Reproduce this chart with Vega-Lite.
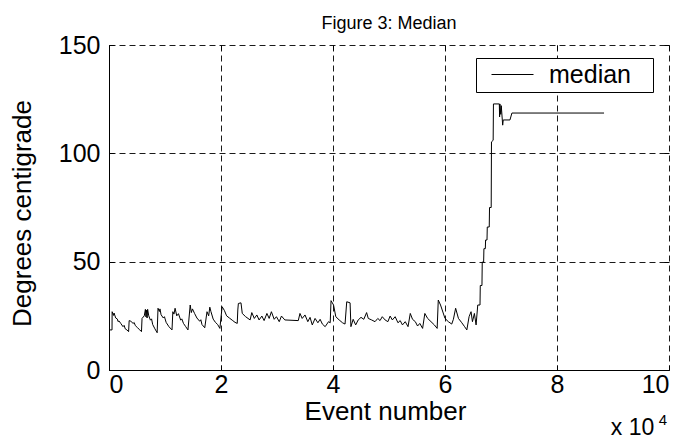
{
  "$schema": "https://vega.github.io/schema/vega-lite/v6.json",
  "width": 560,
  "height": 325,
  "autosize": "none",
  "padding": {"left": 109, "top": 45, "right": 16, "bottom": 69},
  "background": "white",
  "title": {"text": "Figure 3: Median", "font": "Liberation Sans", "fontSize": 18, "fontWeight": "normal", "color": "black", "offset": 0},
  "config": {"view": {"stroke": null}, "font": "Liberation Sans"},
  "data": {"values": [
    {"event": 0, "median": 18.5}, {"event": 540, "median": 18.5}, {"event": 560, "median": 26.9}, {"event": 800, "median": 25.2}, {"event": 900, "median": 26.3},
    {"event": 1200, "median": 24}, {"event": 1500, "median": 23.5}, {"event": 1600, "median": 22.4}, {"event": 1800, "median": 22.6}, {"event": 2100, "median": 21.5},
    {"event": 2500, "median": 20}, {"event": 2700, "median": 20.6}, {"event": 2900, "median": 19}, {"event": 3200, "median": 18.5}, {"event": 3500, "median": 17.7},
    {"event": 3600, "median": 22.8}, {"event": 3900, "median": 22.5}, {"event": 4300, "median": 21.5}, {"event": 4500, "median": 21.9}, {"event": 4700, "median": 20.5},
    {"event": 5100, "median": 19.5}, {"event": 5500, "median": 18.5}, {"event": 5800, "median": 17.7}, {"event": 5900, "median": 23.8},
    {"event": 6300, "median": 25}, {"event": 6500, "median": 28}, {"event": 6600, "median": 24.5}, {"event": 6700, "median": 27.6}, {"event": 6800, "median": 24},
    {"event": 6900, "median": 28}, {"event": 7100, "median": 25}, {"event": 7400, "median": 23}, {"event": 7600, "median": 23.6}, {"event": 7800, "median": 21},
    {"event": 8200, "median": 19}, {"event": 8600, "median": 17.2}, {"event": 8750, "median": 28.5}, {"event": 9000, "median": 27}, {"event": 9100, "median": 28.2},
    {"event": 9300, "median": 25.5}, {"event": 9700, "median": 24}, {"event": 9900, "median": 24.6}, {"event": 10200, "median": 22}, {"event": 10700, "median": 20},
    {"event": 11250, "median": 18.5}, {"event": 11400, "median": 26.9}, {"event": 11600, "median": 25.8}, {"event": 11800, "median": 28.5}, {"event": 12100, "median": 25},
    {"event": 12400, "median": 26}, {"event": 12800, "median": 23}, {"event": 13000, "median": 23.6}, {"event": 13300, "median": 21.5}, {"event": 13700, "median": 20},
    {"event": 14100, "median": 18.5}, {"event": 14500, "median": 30}, {"event": 14700, "median": 26.5}, {"event": 14900, "median": 28.2}, {"event": 15300, "median": 26},
    {"event": 15700, "median": 24}, {"event": 16200, "median": 22.5}, {"event": 16400, "median": 23.2}, {"event": 16600, "median": 21}, {"event": 17100, "median": 19.5},
    {"event": 17500, "median": 26.9}, {"event": 17800, "median": 25}, {"event": 18000, "median": 29}, {"event": 18200, "median": 27}, {"event": 18600, "median": 23.5},
    {"event": 19000, "median": 22}, {"event": 19400, "median": 21}, {"event": 19800, "median": 19.2}, {"event": 20200, "median": 29.2}, {"event": 20600, "median": 27.5},
    {"event": 21000, "median": 25}, {"event": 21500, "median": 24}, {"event": 22000, "median": 23}, {"event": 22500, "median": 22},
    {"event": 22900, "median": 21.5}, {"event": 23000, "median": 27.7}, {"event": 23100, "median": 30.7}, {"event": 23570, "median": 31},
    {"event": 23800, "median": 26.1}, {"event": 24400, "median": 24.6}, {"event": 25200, "median": 23.1}, {"event": 25500, "median": 26.5},
    {"event": 25950, "median": 23.8}, {"event": 26400, "median": 25.4}, {"event": 26800, "median": 23.1}, {"event": 27300, "median": 24.9},
    {"event": 27700, "median": 22.8}, {"event": 28200, "median": 26.1}, {"event": 28600, "median": 23.8}, {"event": 29000, "median": 26.9},
    {"event": 29500, "median": 23.4}, {"event": 29900, "median": 24.6}, {"event": 30400, "median": 22.3}, {"event": 30800, "median": 24.9},
    {"event": 31400, "median": 23.1}, {"event": 33800, "median": 22.8}, {"event": 34100, "median": 26.1}, {"event": 34500, "median": 23.8},
    {"event": 35000, "median": 25.4}, {"event": 35500, "median": 22.3}, {"event": 35900, "median": 24.3}, {"event": 36300, "median": 20.8},
    {"event": 36800, "median": 23.8}, {"event": 37300, "median": 21.8}, {"event": 37700, "median": 23.4}, {"event": 38100, "median": 21.2},
    {"event": 38600, "median": 20}, {"event": 39200, "median": 22.3}, {"event": 39500, "median": 21.8}, {"event": 39650, "median": 32},
    {"event": 40100, "median": 30}, {"event": 40500, "median": 24.6}, {"event": 41100, "median": 23.1}, {"event": 41700, "median": 21.8},
    {"event": 42150, "median": 21.2}, {"event": 42450, "median": 31.5}, {"event": 43050, "median": 31}, {"event": 43200, "median": 20},
    {"event": 43600, "median": 23.4}, {"event": 44050, "median": 20.8}, {"event": 44500, "median": 23.1}, {"event": 45000, "median": 24.3},
    {"event": 45500, "median": 23.4}, {"event": 46000, "median": 26.5}, {"event": 46300, "median": 23.8}, {"event": 46900, "median": 23.1},
    {"event": 47500, "median": 22.3}, {"event": 48000, "median": 23.8}, {"event": 48400, "median": 22.8}, {"event": 48800, "median": 24.6},
    {"event": 49300, "median": 23.1}, {"event": 49800, "median": 22.3}, {"event": 50200, "median": 24.9}, {"event": 50600, "median": 23.1},
    {"event": 51100, "median": 24.6}, {"event": 51600, "median": 21.8}, {"event": 52000, "median": 22.8}, {"event": 52400, "median": 20.8},
    {"event": 52900, "median": 22.3}, {"event": 53400, "median": 20}, {"event": 53800, "median": 26.1}, {"event": 54200, "median": 23.4},
    {"event": 54700, "median": 22.3}, {"event": 55100, "median": 20.3}, {"event": 55500, "median": 21.5}, {"event": 56000, "median": 19.2},
    {"event": 56400, "median": 26.1}, {"event": 56900, "median": 23.8}, {"event": 57500, "median": 22.3}, {"event": 58100, "median": 20.8},
    {"event": 58600, "median": 19.2}, {"event": 58800, "median": 32.3}, {"event": 59200, "median": 30}, {"event": 59500, "median": 27.7},
    {"event": 60000, "median": 23.8}, {"event": 60600, "median": 22.3}, {"event": 61200, "median": 21.2}, {"event": 61500, "median": 23.4},
    {"event": 61900, "median": 28.5}, {"event": 62400, "median": 23.8}, {"event": 63000, "median": 21.8}, {"event": 63500, "median": 20},
    {"event": 63900, "median": 18.5}, {"event": 64300, "median": 24.6}, {"event": 64650, "median": 26.9}, {"event": 64900, "median": 22.3},
    {"event": 65250, "median": 26.1}, {"event": 65550, "median": 20.8}, {"event": 65850, "median": 30}, {"event": 66250, "median": 30},
    {"event": 66300, "median": 39}, {"event": 66600, "median": 39}, {"event": 66650, "median": 49.8}, {"event": 66900, "median": 49.8},
    {"event": 66950, "median": 56}, {"event": 67200, "median": 56}, {"event": 67250, "median": 60}, {"event": 67500, "median": 60},
    {"event": 67550, "median": 66}, {"event": 67900, "median": 66}, {"event": 67950, "median": 75}, {"event": 68250, "median": 75},
    {"event": 68300, "median": 105.3}, {"event": 68600, "median": 106}, {"event": 68650, "median": 122.8}, {"event": 69700, "median": 122.8},
    {"event": 69750, "median": 116.8}, {"event": 69800, "median": 122.8}, {"event": 69950, "median": 118}, {"event": 70050, "median": 122},
    {"event": 70300, "median": 113}, {"event": 70400, "median": 115.4}, {"event": 71600, "median": 115.4}, {"event": 71950, "median": 118.6},
    {"event": 88400, "median": 118.6}
  ]},
  "layer": [
    {
      "mark": {"type": "line", "color": "black", "strokeWidth": 1, "clip": true},
      "encoding": {
        "x": {"field": "event", "type": "quantitative",
          "scale": {"domain": [0, 100000], "nice": false, "zero": false},
          "axis": {"values": [0, 20000, 40000, 60000, 80000, 100000], "labelExpr": "datum.value / 10000",
            "grid": true, "gridColor": "black", "gridOpacity": 1, "gridDash": [6, 4], "gridWidth": 0.9,
            "domainColor": "black", "domainWidth": 1, "tickColor": "black", "tickSize": -5, "labelPadding": 7,
            "labelFont": "Liberation Sans", "labelFontSize": 25, "labelColor": "black",
            "title": "Event number", "titleFont": "Liberation Sans", "titleFontSize": 26, "titleFontWeight": "normal", "titleColor": "black",
            "titleX": 276, "titleY": 41, "titleBaseline": "middle"}},
        "y": {"field": "median", "type": "quantitative",
          "scale": {"domain": [0, 150], "nice": false, "zero": false},
          "axis": {"values": [0, 50, 100, 150],
            "grid": true, "gridColor": "black", "gridOpacity": 1, "gridDash": [6, 4], "gridWidth": 0.9,
            "domainColor": "black", "domainWidth": 1, "tickColor": "black", "tickSize": -5, "labelPadding": 14,
            "labelFont": "Liberation Sans", "labelFontSize": 25, "labelColor": "black",
            "title": "Degrees centigrade", "titleFont": "Liberation Sans", "titleFontSize": 26, "titleFontWeight": "normal", "titleColor": "black",
            "titleX": -87, "titleY": 168, "titleAngle": -90, "titleAlign": "center", "titleBaseline": "middle"}},
        "color": {"datum": "median", "scale": {"range": ["black"]},
          "legend": {"title": null, "orient": "none", "legendX": 367, "legendY": 13, "direction": "vertical",
            "strokeColor": "black", "fillColor": "white", "padding": 4, "symbolOffset": 20,
            "symbolType": "M-2,0H2", "symbolSize": 441, "symbolStrokeWidth": 1, "symbolStrokeColor": "black", "symbolFillColor": "transparent",
            "labelFont": "Liberation Sans", "labelFontSize": 25, "labelColor": "black", "labelOffset": 24, "labelLimit": 400,
            "labelExpr": "datum.label + '\u2800'"}}
      }
    },
    {
      "mark": {"type": "line", "opacity": 0},
      "encoding": {
        "x": {"field": "event", "type": "quantitative",
          "axis": {"orient": "top", "values": [0, 20000, 40000, 60000, 80000, 100000], "labels": false, "domain": false, "grid": false,
            "tickColor": "black", "tickSize": -5, "title": null}},
        "y": {"field": "median", "type": "quantitative",
          "axis": {"orient": "right", "values": [0, 50, 100, 150], "labels": false, "domain": false, "grid": false,
            "tickColor": "black", "tickSize": -5, "title": null}}
      }
    },
    {
      "data": {"values": [{"label": "x 10"}]},
      "mark": {"type": "text", "font": "Liberation Sans", "fontSize": 23, "color": "black", "align": "center", "baseline": "alphabetic", "clip": false},
      "encoding": {
        "x": {"datum": 93500, "type": "quantitative", "axis": null},
        "y": {"datum": -30, "type": "quantitative", "axis": null},
        "text": {"field": "label"}
      }
    },
    {
      "data": {"values": [{"label": "4"}]},
      "mark": {"type": "text", "font": "Liberation Sans", "fontSize": 15, "color": "black", "align": "center", "baseline": "alphabetic", "clip": false},
      "encoding": {
        "x": {"datum": 98900, "type": "quantitative", "axis": null},
        "y": {"datum": -25.5, "type": "quantitative", "axis": null},
        "text": {"field": "label"}
      }
    }
  ],
  "resolve": {"axis": {"x": "independent", "y": "independent"}}
}
